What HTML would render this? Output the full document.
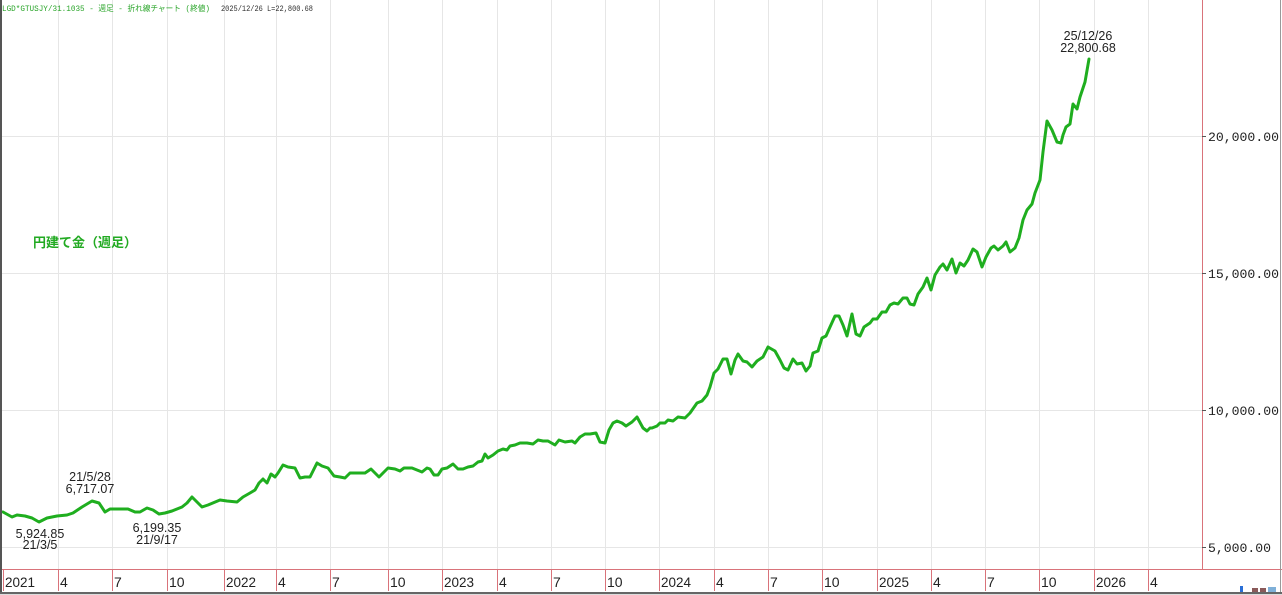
<!DOCTYPE html>
<html>
<head>
<meta charset="utf-8">
<style>
html,body{margin:0;padding:0;background:#fff;}
svg{display:block;}
</style>
</head>
<body>
<svg width="1282" height="595" viewBox="0 0 1282 595" xmlns="http://www.w3.org/2000/svg">
  <rect x="0" y="0" width="1282" height="595" fill="#ffffff"/>
  <!-- vertical gridlines -->
  <g stroke="#e6e6e6" stroke-width="1">
    <line x1="58.5" y1="0" x2="58.5" y2="569"/>
    <line x1="112.5" y1="0" x2="112.5" y2="569"/>
    <line x1="167.5" y1="0" x2="167.5" y2="569"/>
    <line x1="224.5" y1="0" x2="224.5" y2="569"/>
    <line x1="276.5" y1="0" x2="276.5" y2="569"/>
    <line x1="330.5" y1="0" x2="330.5" y2="569"/>
    <line x1="388.5" y1="0" x2="388.5" y2="569"/>
    <line x1="442.5" y1="0" x2="442.5" y2="569"/>
    <line x1="497.5" y1="0" x2="497.5" y2="569"/>
    <line x1="551.5" y1="0" x2="551.5" y2="569"/>
    <line x1="605.5" y1="0" x2="605.5" y2="569"/>
    <line x1="659.5" y1="0" x2="659.5" y2="569"/>
    <line x1="714.5" y1="0" x2="714.5" y2="569"/>
    <line x1="768.5" y1="0" x2="768.5" y2="569"/>
    <line x1="822.5" y1="0" x2="822.5" y2="569"/>
    <line x1="877.5" y1="0" x2="877.5" y2="569"/>
    <line x1="931.5" y1="0" x2="931.5" y2="569"/>
    <line x1="985.5" y1="0" x2="985.5" y2="569"/>
    <line x1="1039.5" y1="0" x2="1039.5" y2="569"/>
    <line x1="1094.5" y1="0" x2="1094.5" y2="569"/>
    <line x1="1148.5" y1="0" x2="1148.5" y2="569"/>
  </g>
  <!-- horizontal gridlines -->
  <g stroke="#e6e6e6" stroke-width="1">
    <line x1="2" y1="136.5" x2="1202" y2="136.5"/>
    <line x1="2" y1="273.5" x2="1202" y2="273.5"/>
    <line x1="2" y1="410.5" x2="1202" y2="410.5"/>
    <line x1="2" y1="547.5" x2="1202" y2="547.5"/>
  </g>

  <!-- header -->
  <text x="2" y="11" font-family="Liberation Mono, 'Noto Sans CJK JP', monospace" font-size="8" fill="#2aa52a" textLength="208" lengthAdjust="spacingAndGlyphs">LGD*GTUSJY/31.1035 - 週足 - 折れ線チャート (終値)</text>
  <text x="221" y="11" font-family="Liberation Mono, monospace" font-size="8" fill="#333" textLength="92" lengthAdjust="spacingAndGlyphs">2025/12/26 L=22,800.68</text>

  <!-- title -->
  <text x="33" y="247" font-family="'Liberation Sans','Noto Sans CJK JP',sans-serif" font-size="13" font-weight="bold" fill="#22aa22">円建て金（週足）</text>

  <!-- right axis -->
  <line x1="1202.5" y1="0" x2="1202.5" y2="569" stroke="#d9737a" stroke-width="1"/>
  <g stroke="#555" stroke-width="1">
    <line x1="1202" y1="136.5" x2="1206" y2="136.5"/>
    <line x1="1202" y1="273.5" x2="1206" y2="273.5"/>
    <line x1="1202" y1="410.5" x2="1206" y2="410.5"/>
    <line x1="1202" y1="547.5" x2="1206" y2="547.5"/>
  </g>
  <g font-family="'Liberation Mono',monospace" font-size="13.3" fill="#222">
    <text x="1208" y="141" textLength="71" lengthAdjust="spacingAndGlyphs">20,000.00</text>
    <text x="1208" y="278" textLength="71" lengthAdjust="spacingAndGlyphs">15,000.00</text>
    <text x="1208" y="415" textLength="71" lengthAdjust="spacingAndGlyphs">10,000.00</text>
    <text x="1208" y="552" textLength="63" lengthAdjust="spacingAndGlyphs">5,000.00</text>
  </g>

  <!-- series -->
  <polyline fill="none" stroke="#1fae1f" stroke-width="3" stroke-linejoin="round" stroke-linecap="round" points="
3,512 12,517 17,515 25,516 32,518 39,522 47,518 57,516 67,515 73,513 82,507 92,501 99,503 105,512 110,509 123,509 128,509 135,512 140,512 147,508 153,510 159,514 165,513 172,511 182,507 187,503 192,497 197,502 202,507 208,505 220,500 227,501 237,502 243,497 250,493
255,490 259,483 263,479 267,483 271,474 275,477 278,473 283,465 288,467 295,468 300,478 305,477 310,477 317,463 322,466 328,468 334,476 340,477 345,478 350,473 358,473 365,473 371,469 375,473 379,477 383,473 388,468 395,469 400,471 404,468 412,468 417,470 422,472 427,468 430,469 434,475 438,475 442,469 447,468 453,464 458,469 463,469 468,467 473,466 478,462 482,461 485,454 488,458 493,455 498,451 503,449 507,450 510,446 515,445 520,443 527,443 533,444 538,440 543,441 548,441 555,445 559,440 565,442 572,441 575,443 580,437 585,434 590,434 596,433 600,442 605,443 609,430 613,423 617,421 622,423 626,426 632,422 637,417 643,428 647,431 650,428
652,428 657,426 660,423 665,423 668,420 673,421 678,417 685,418 690,413 697,403 702,401 707,395 710,387 714,373 718,369 723,359 727,359 731,374 735,360 738,354 743,361 747,362 752,367 757,361 763,357 768,347 775,351 780,360 784,368 788,370 793,359 797,364 802,363 806,371 810,366 813,353 818,351 822,338 826,336 830,327 835,316 839,316 843,325 847,336 852,314 856,334 860,336 864,327 870,323 873,319 877,319 882,312 886,312 890,305 894,303 898,304
903,298 907,298 910,304 914,305 918,294 923,287 927,278 931,290 935,275 940,267 943,264 947,270 952,259 956,273 960,263 964,266 968,260 973,249 977,252 982,267 986,257 991,248 994,246 998,250 1003,246 1006,242 1010,252 1015,248 1019,238 1023,220 1027,210 1032,204 1035,193 1040,180 1043,152 1047,121 1052,130 1057,142 1061,143 1063,135 1066,127 1070,124 1073,104 1077,109 1080,97 1085,82 1089,59"/>

  <!-- annotations -->
  <g font-family="'Liberation Sans',sans-serif" font-size="12.5" fill="#222" text-anchor="middle">
    <text x="90" y="481">21/5/28</text>
    <text x="90" y="493">6,717.07</text>
    <text x="40" y="538">5,924.85</text>
    <text x="40" y="549">21/3/5</text>
    <text x="157" y="532">6,199.35</text>
    <text x="157" y="544">21/9/17</text>
    <text x="1088" y="40">25/12/26</text>
    <text x="1088" y="52">22,800.68</text>
  </g>

  <!-- x axis -->
  <line x1="0" y1="569.5" x2="1282" y2="569.5" stroke="#d9737a" stroke-width="1"/>
  <g stroke="#d9737a" stroke-width="1">
    <line x1="3.5" y1="569" x2="3.5" y2="591"/>
    <line x1="58.5" y1="569" x2="58.5" y2="591"/>
    <line x1="112.5" y1="569" x2="112.5" y2="591"/>
    <line x1="167.5" y1="569" x2="167.5" y2="591"/>
    <line x1="224.5" y1="569" x2="224.5" y2="591"/>
    <line x1="276.5" y1="569" x2="276.5" y2="591"/>
    <line x1="330.5" y1="569" x2="330.5" y2="591"/>
    <line x1="388.5" y1="569" x2="388.5" y2="591"/>
    <line x1="442.5" y1="569" x2="442.5" y2="591"/>
    <line x1="497.5" y1="569" x2="497.5" y2="591"/>
    <line x1="551.5" y1="569" x2="551.5" y2="591"/>
    <line x1="605.5" y1="569" x2="605.5" y2="591"/>
    <line x1="659.5" y1="569" x2="659.5" y2="591"/>
    <line x1="714.5" y1="569" x2="714.5" y2="591"/>
    <line x1="768.5" y1="569" x2="768.5" y2="591"/>
    <line x1="822.5" y1="569" x2="822.5" y2="591"/>
    <line x1="877.5" y1="569" x2="877.5" y2="591"/>
    <line x1="931.5" y1="569" x2="931.5" y2="591"/>
    <line x1="985.5" y1="569" x2="985.5" y2="591"/>
    <line x1="1039.5" y1="569" x2="1039.5" y2="591"/>
    <line x1="1094.5" y1="569" x2="1094.5" y2="591"/>
    <line x1="1148.5" y1="569" x2="1148.5" y2="591"/>
  </g>
  <g font-family="'Liberation Sans',sans-serif" font-size="14" fill="#222">
    <text x="5" y="587" textLength="30" lengthAdjust="spacingAndGlyphs">2021</text>
    <text x="60" y="587">4</text>
    <text x="114" y="587">7</text>
    <text x="169" y="587">10</text>
    <text x="226" y="587" textLength="30" lengthAdjust="spacingAndGlyphs">2022</text>
    <text x="278" y="587">4</text>
    <text x="332" y="587">7</text>
    <text x="390" y="587">10</text>
    <text x="444" y="587" textLength="30" lengthAdjust="spacingAndGlyphs">2023</text>
    <text x="499" y="587">4</text>
    <text x="553" y="587">7</text>
    <text x="607" y="587">10</text>
    <text x="661" y="587" textLength="30" lengthAdjust="spacingAndGlyphs">2024</text>
    <text x="716" y="587">4</text>
    <text x="770" y="587">7</text>
    <text x="824" y="587">10</text>
    <text x="879" y="587" textLength="30" lengthAdjust="spacingAndGlyphs">2025</text>
    <text x="933" y="587">4</text>
    <text x="987" y="587">7</text>
    <text x="1041" y="587">10</text>
    <text x="1096" y="587" textLength="30" lengthAdjust="spacingAndGlyphs">2026</text>
    <text x="1150" y="587">4</text>
  </g>

  <!-- frame borders -->
  <rect x="0" y="0" width="2" height="593" fill="#555"/>
  <rect x="1280" y="0" width="1" height="593" fill="#999"/>
  <rect x="0" y="592" width="1282" height="2" fill="#666"/>
  <rect x="0" y="594" width="1282" height="1" fill="#ddd"/>
  <!-- tiny status icons -->
  <rect x="1240" y="586" width="3" height="6" fill="#2a6fd6"/>
  <rect x="1252" y="588" width="6" height="4" fill="#8a5a5a"/>
  <rect x="1260" y="588" width="6" height="4" fill="#8a5a5a"/>
  <rect x="1268" y="587" width="8" height="5" fill="#7fb0d8"/>
</svg>
</body>
</html>
